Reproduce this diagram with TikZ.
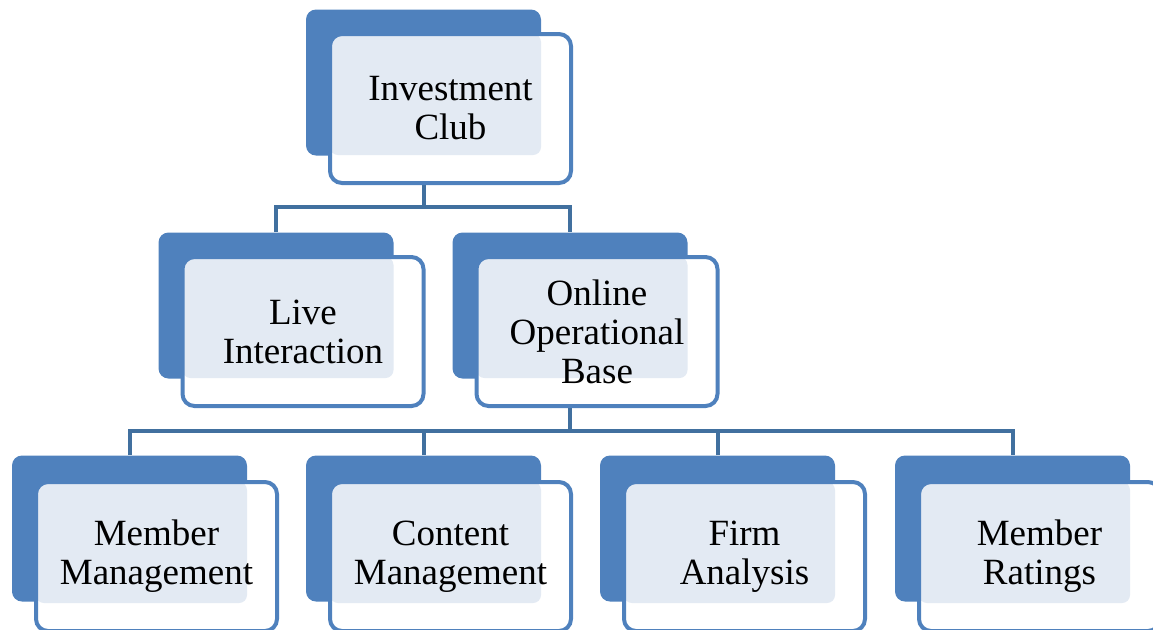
\documentclass[tikz,border=0pt]{standalone}
\usepackage{fontspec}
\setmainfont{Liberation Serif}
\usetikzlibrary{positioning}
\definecolor{boxblue}{HTML}{4F81BD}
\definecolor{linkblue}{HTML}{41709F}
\definecolor{paleblue}{HTML}{E3EAF3}
\tikzset{backbox/.style = {fill=boxblue, rounded corners=5pt, minimum width=117.5pt, minimum height=73pt, inner sep=0}}
\tikzset{frontbox/.style = {draw=boxblue, fill=white, line width=2pt, rounded corners=6pt, minimum width=120.5pt, minimum height=74.5pt, inner sep=0, align=center, font=\fontsize{18.5}{19.5}\selectfont, path picture={\fill[paleblue, rounded corners=4pt] (path picture bounding box.north west) rectangle ++(105.5pt,-60.5pt);}}}
\tikzset{link/.style = {draw=linkblue, line width=2pt}}
\begin{document}
\begin{tikzpicture}[x=0.5pt,y=-0.5pt]
        \useasboundingbox (0,0) rectangle (1153,629);
        % shadow boxes
        \node [backbox] (club-back) at (423.5,82.5) {};
        \node [backbox] (live-back) at (276,305.5) {};
        \node [backbox] (online-back) at (570,305.5) {};
        \node [backbox] (mm-back) at (129.5,528.5) {};
        \node [backbox] (cm-back) at (423.5,528.5) {};
        \node [backbox] (fa-back) at (717.5,528.5) {};
        \node [backbox] (mr-back) at (1012.5,528.5) {};
        % connectors
        \coordinate (bus1) at (423.5,207);
        \coordinate (bus2) at (570,430.5);
        \draw [link] (club-back.south) -- (bus1);
        \draw [link] (live-back.north) |- (bus1) -| (online-back.north);
        \draw [link] (online-back.south) -- (bus2);
        \draw [link] (mm-back.north) |- (bus2) -| (mr-back.north);
        \draw [link] (cm-back.north) -- (cm-back.north |- bus2);
        \draw [link] (fa-back.north) -- (fa-back.north |- bus2);
        % front boxes
        \node [frontbox] (club) at (450.5,108.5) {Investment\\Club};
        \node [frontbox] (live) at (303,331.5) {Live\\Interaction};
        \node [frontbox] (online) at (597,331.5) {Online\\Operational\\Base};
        \node [frontbox] (mm) at (156.5,556.5) {Member\\Management};
        \node [frontbox] (cm) at (450.5,556.5) {Content\\Management};
        \node [frontbox] (fa) at (744.5,556.5) {Firm\\Analysis};
        \node [frontbox] (mr) at (1039.5,556.5) {Member\\Ratings};
    \end{tikzpicture}
\end{document}
